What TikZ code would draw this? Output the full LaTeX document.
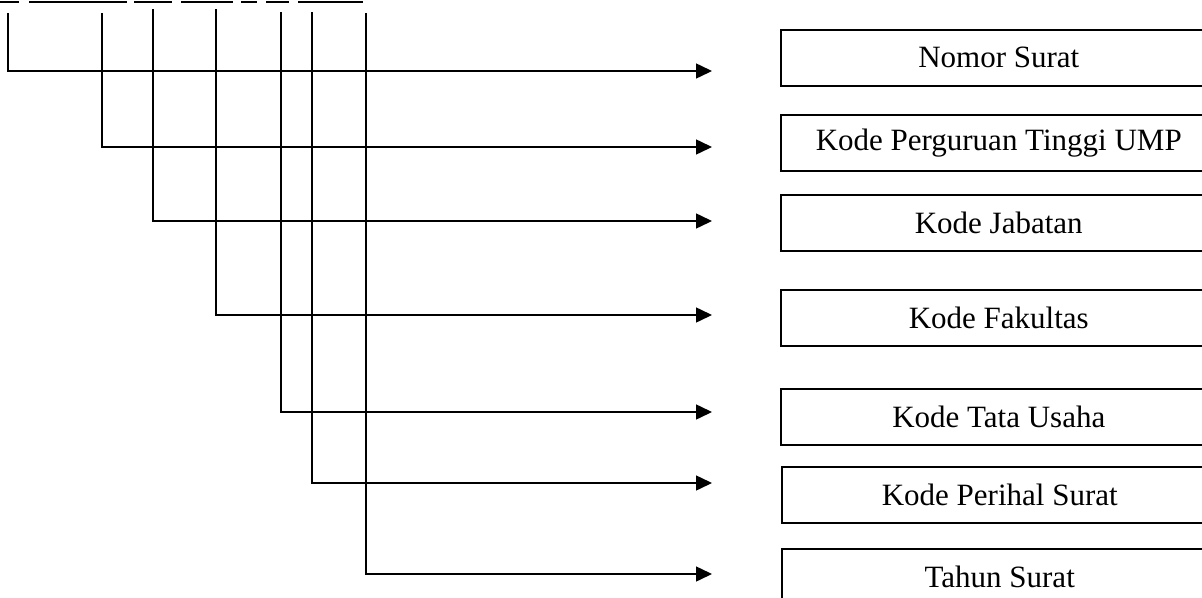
\documentclass[tikz,border=0pt]{standalone}
\usepackage{fontspec}
\setmainfont{Liberation Serif}
\usetikzlibrary{arrows.meta}
\tikzset{
	kotak/.style={draw, line width=1.5pt, anchor=north west, minimum width=436pt, minimum height=56pt, inner sep=0pt, font=\fontsize{31}{37}\selectfont},
	garis/.style={line width=1.5pt},
	panah/.style={line width=1.5pt, -{Triangle[length=16pt,width=15pt]}}
}
\begin{document}
\begin{tikzpicture}[x=1pt,y=-1pt]
	\useasboundingbox (0,0) rectangle (1202,597);
	% garis bawah nomor surat
	\draw[line width=2pt] (0,1.5) -- (19,1.5);
	\draw[line width=2pt] (29,1.5) -- (127,1.5);
	\draw[line width=2pt] (134,1.5) -- (172,1.5);
	\draw[line width=2pt] (181,1.5) -- (233,1.5);
	\draw[line width=2pt] (241,1.5) -- (257,1.5);
	\draw[line width=2pt] (266,1.5) -- (289,1.5);
	\draw[line width=2pt] (298,1.5) -- (363,1.5);
	% kotak keterangan
	\node[kotak] (nomor) at (780,29) {Nomor Surat};
	\node[kotak] (kodept) at (780,114) {Kode Perguruan Tinggi UMP};
	\node[kotak] (jabatan) at (780,194) {Kode Jabatan};
	\node[kotak] (fakultas) at (780,289) {Kode Fakultas};
	\node[kotak] (tatausaha) at (780,388) {Kode Tata Usaha};
	\node[kotak] (perihal) at (781,466) {Kode Perihal Surat};
	\node[kotak] (tahun) at (781,548) {Tahun Surat};
	% titik awal dan ujung panah
	\coordinate (a1) at (8,13);
	\coordinate (a2) at (102,13);
	\coordinate (a3) at (153,9);
	\coordinate (a4) at (216,9);
	\coordinate (a5) at (281,12);
	\coordinate (a6) at (312,12);
	\coordinate (a7) at (366,13);
	\coordinate (b1) at (712,71);
	\coordinate (b2) at (712,147);
	\coordinate (b3) at (712,221);
	\coordinate (b4) at (712,315);
	\coordinate (b5) at (712,412);
	\coordinate (b6) at (712,483);
	\coordinate (b7) at (712,574);
	\draw[panah] (a1) |- (b1);
	\draw[panah] (a2) |- (b2);
	\draw[panah] (a3) |- (b3);
	\draw[panah] (a4) |- (b4);
	\draw[panah] (a5) |- (b5);
	\draw[panah] (a6) |- (b6);
	\draw[panah] (a7) |- (b7);
\end{tikzpicture}
\end{document}
